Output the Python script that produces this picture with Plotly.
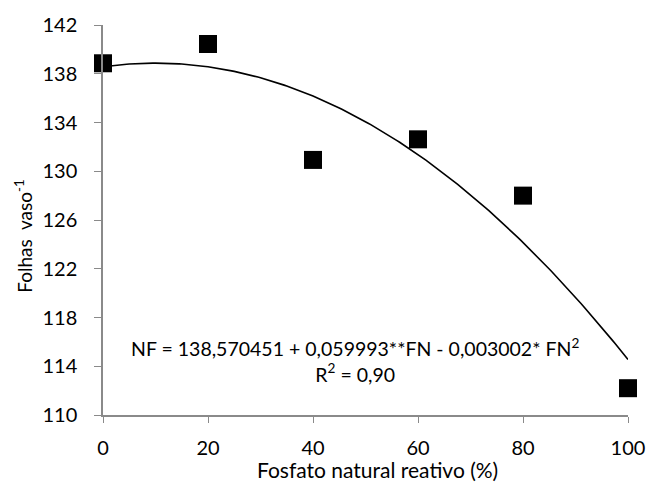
import numpy as np
import plotly.graph_objects as go

# Observed means
fn_pct = [0, 20, 40, 60, 80, 100]
folhas = [138.86, 140.44, 130.93, 132.62, 128.0, 112.2]

# Fitted quadratic coefficients
b0, b1, b2 = 138.570451, 0.059993, -0.003002
x_fit = np.linspace(0, 100, 201)
y_fit = b0 + b1 * x_fit + b2 * x_fit ** 2

y_ticks = [110, 114, 118, 122, 126, 130, 134, 138, 142]
x_ticks = [0, 20, 40, 60, 80, 100]

font_family = "Lato, 'Open Sans', sans-serif"
axis_grey = "#8a8a8a"

fig = go.Figure()
fig.add_trace(go.Scatter(x=x_fit, y=y_fit, mode="lines",
                         line=dict(color="black", width=1.6), showlegend=False))
fig.add_trace(go.Scatter(x=fn_pct, y=folhas, mode="markers",
                         marker=dict(symbol="square", size=18, color="black"),
                         showlegend=False))

# Regression equation
fig.add_annotation(x=48.0, y=114.5, xref="x", yref="y",
                   text="NF = 138,570451 + 0,059993**FN - 0,003002* FN<sup>2</sup><br>R<sup>2</sup> = 0,90",
                   showarrow=False, align="center",
                   font=dict(family=font_family, size=19.5, color="black"))

# Axis titles
fig.add_annotation(x=-0.151, y=0.459, xref="paper", yref="paper",
                   text="Folhas&nbsp; vaso<sup>-1</sup>", textangle=-90,
                   showarrow=False, xanchor="center", yanchor="middle",
                   font=dict(family=font_family, size=19, color="black"))
fig.add_annotation(x=0.522, y=-0.175, xref="paper", yref="paper",
                   text="Fosfato natural reativo (%)",
                   showarrow=False, xanchor="center", yanchor="bottom",
                   borderpad=0,
                   font=dict(family=font_family, size=21, color="black"))

fig.update_layout(
    width=657, height=483,
    margin=dict(l=103, r=23, t=25, b=68),
    plot_bgcolor="white", paper_bgcolor="white",
    font=dict(family=font_family, size=20, color="black"),
    xaxis=dict(range=[0, 100], tickvals=x_ticks, showline=True, linecolor=axis_grey,
               linewidth=1.5, ticks="outside", tickcolor=axis_grey, ticklen=6,
               ticklabelstandoff=8, showgrid=False, zeroline=False),
    yaxis=dict(range=[110, 142], tickvals=y_ticks, showline=True, linecolor=axis_grey,
               linewidth=1.5, ticks="outside", tickcolor=axis_grey, ticklen=7,
               ticklabelstandoff=13, showgrid=False, zeroline=False),
)
fig.update_traces(cliponaxis=False)

fig.write_html("out.html")
